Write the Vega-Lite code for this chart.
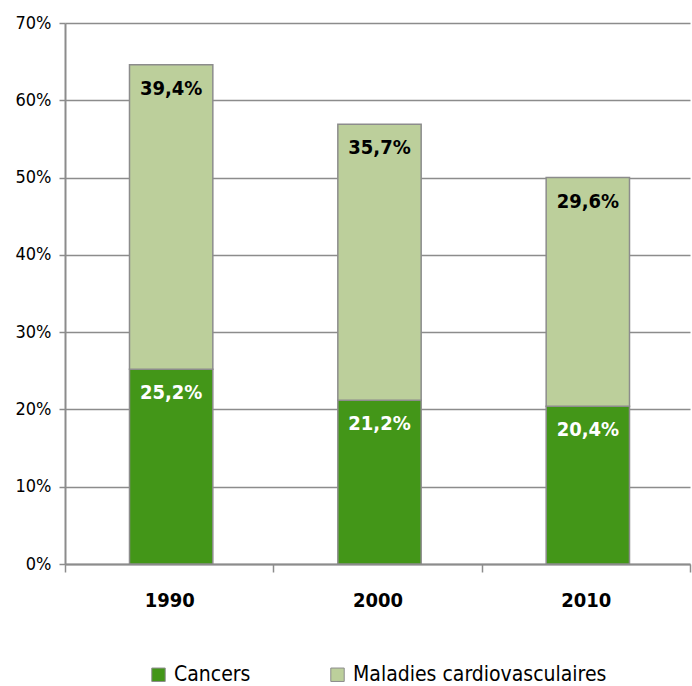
{
  "$schema": "https://vega.github.io/schema/vega-lite/v6.json",
  "autosize": "none",
  "width": 625,
  "height": 541,
  "padding": {"left": 65, "top": 23, "right": 2, "bottom": 122},
  "background": "white",
  "config": {
    "font": "Liberation Sans Narrow, DejaVu Sans Condensed, Liberation Sans, sans-serif",
    "view": {"stroke": null},
    "locale": {"number": {"decimal": ",", "thousands": " ", "grouping": [3], "currency": ["", " €"]}}
  },
  "data": {
    "values": [
      {"year": "1990", "cause": "Cancers", "order": 1, "value": 0.252},
      {"year": "1990", "cause": "Maladies cardiovasculaires", "order": 2, "value": 0.394},
      {"year": "2000", "cause": "Cancers", "order": 1, "value": 0.212},
      {"year": "2000", "cause": "Maladies cardiovasculaires", "order": 2, "value": 0.357},
      {"year": "2010", "cause": "Cancers", "order": 1, "value": 0.204},
      {"year": "2010", "cause": "Maladies cardiovasculaires", "order": 2, "value": 0.296}
    ]
  },
  "transform": [
    {"stack": "value", "groupby": ["year"], "sort": [{"field": "order"}], "as": ["v0", "v1"]}
  ],
  "encoding": {
    "x": {
      "field": "year", "type": "nominal", "title": null,
      "scale": {"paddingInner": 0, "paddingOuter": 0},
      "axis": {
        "labelAngle": 0, "labelFontSize": 20, "labelFontWeight": "bold", "labelColor": "black",
        "labelPadding": 18, "tickBand": "extent", "tickSize": 8, "tickColor": "#8c8c8c", "tickWidth": 1.5,
        "domainColor": "#8c8c8c", "domainWidth": 2
      }
    }
  },
  "layer": [
    {
      "mark": {"type": "bar", "stroke": "#8c8c8c", "strokeWidth": 1.5, "width": {"band": 0.4}, "xOffset": 2},
      "encoding": {
        "y": {
          "field": "v0", "type": "quantitative", "title": null,
          "scale": {"domain": [0, 0.7]},
          "axis": {
            "format": ".0%", "tickCount": 7, "labelFontSize": 18, "labelColor": "black", "labelPadding": 8,
            "gridColor": "#8c8c8c", "gridWidth": 1.5, "tickColor": "#8c8c8c", "tickSize": 6, "tickWidth": 1.5,
            "domainColor": "#8c8c8c", "domainWidth": 2
          }
        },
        "y2": {"field": "v1"},
        "color": {
          "field": "cause", "type": "nominal",
          "scale": {"domain": ["Cancers", "Maladies cardiovasculaires"], "range": ["#439618", "#bccf9b"]},
          "legend": {
            "title": null, "orient": "none", "direction": "horizontal", "legendX": 83, "legendY": 641,
            "labelFontSize": 21, "labelColor": "black", "labelLimit": 500, "symbolType": "square", "symbolSize": 180,
            "symbolStrokeColor": "#8c8c8c", "symbolStrokeWidth": 1, "columnPadding": 76, "labelOffset": 5
          }
        },
        "order": {"field": "order"}
      }
    },
    {
      "mark": {"type": "text", "baseline": "top", "dy": 14, "dx": 2, "fontSize": 20, "fontWeight": "bold"},
      "encoding": {
        "y": {"field": "v1", "type": "quantitative"},
        "text": {"field": "value", "type": "quantitative", "format": ".1%"},
        "color": {
          "condition": {"test": "datum.order === 1", "value": "white"},
          "value": "black"
        }
      }
    }
  ]
}
